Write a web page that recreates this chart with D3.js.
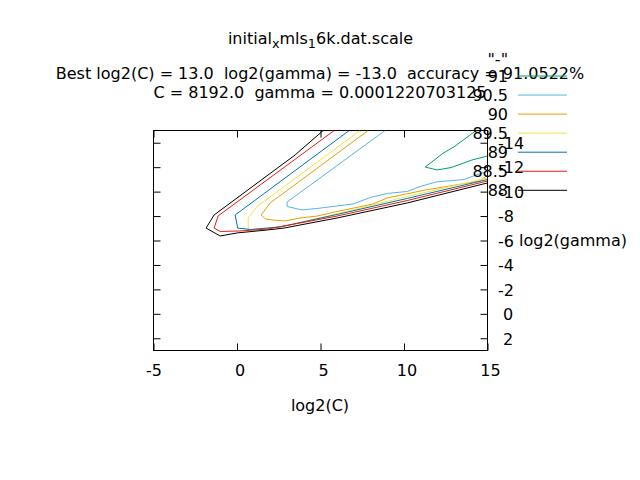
<!DOCTYPE html>
<html>
<head>
<meta charset="utf-8">
<script src="https://cdn.jsdelivr.net/npm/d3@7"></script>
<style>
  html, body { margin: 0; padding: 0; background: #fff; }
  svg text { font-family: "DejaVu Sans", sans-serif; font-size: 16px; fill: #000; white-space: pre; }
</style>
</head>
<body>
<svg id="chart" width="640" height="480"></svg>
<script>
// ---- data (log2(C), log2(gamma)) contour polylines ----
const levels = ["91", "90.5", "90", "89.5", "89", "88.5", "88"];
const c91   = [[14.32,-15],[13.06,-13.73],[12.28,-13.08],[11.27,-12.01],[11.98,-11.77],[12.82,-11.97],[14.08,-12.59],[15,-12.91]];
const c90_5 = [[8.87,-15],[3.0,-9.15],[3.0,-8.78],[3.9,-8.5],[4.8,-8.62],[6.96,-8.99],[7.98,-9.52],[9.0,-9.85],[10.19,-10.01],[10.97,-10.42],[11.93,-10.79],[13.6,-10.99],[14.32,-11.36],[15,-11.65]];
const c90   = [[7.85,-15],[2.88,-9.97],[1.98,-9.07],[1.45,-8.09],[1.69,-7.76],[2.11,-7.68],[2.88,-7.6],[3.78,-7.84],[4.8,-8.0],[5.99,-8.37],[8.15,-8.99],[8.99,-9.48],[11.27,-10.13],[14.56,-10.87],[15,-11.36]];
const c89_5 = [[7.37,-15],[1.19,-8.77],[0.67,-7.84],[0.67,-6.86],[1.51,-6.9],[3.19,-7.27],[6.17,-8.25],[10.19,-9.6],[15,-11.11]];
const c89   = [[6.72,-15],[-0.11,-8.09],[0.04,-7.02],[0.79,-6.9],[2.59,-7.11],[5.99,-8.13],[10.19,-9.44],[15,-10.99]];
const c88_5 = [[5.82,-15],[-1.13,-8.01],[-1.37,-7.02],[-1.01,-6.74],[0.19,-6.78],[1.81,-6.94],[2.82,-7.19],[5.99,-8.0],[10.19,-9.27],[15,-10.87]];
const c88   = [[5.16,-15],[3.48,-13.0],[-1.37,-8.09],[-1.85,-7.02],[-1.01,-6.37],[0.01,-6.62],[1.81,-6.86],[2.82,-7.02],[5.99,-7.84],[10.19,-9.07],[15,-10.71]];
const contours = [c91, c90_5, c90, c89_5, c89, c88_5, c88];

const xTicks = [-5, 0, 5, 10, 15];
const yTicks = [-14, -12, -10, -8, -6, -4, -2, 0, 2];
const titleLines = ["Best log2(C) = 13.0  log2(gamma) = -13.0  accuracy = 91.0522%",
                    "C = 8192.0  gamma = 0.0001220703125"];

// ---- styles ----
const colors = ["#009e73", "#56b4e9", "#e69f00", "#f0e442", "#0072b2", "#e51e10", "#000000"];

const svg = d3.select("#chart");
const L = 153.5, R = 487.5, T = 130.5, B = 350.5;
const x = d3.scaleLinear().domain([-5, 15]).range([L, R]);
const y = d3.scaleLinear().domain([-15, 3]).range([T, B]);

const fmt = v => (v >= 0 ? " " : "") + String(v);

svg.append("defs").append("clipPath").attr("id", "clip")
  .append("rect").attr("x", L).attr("y", T).attr("width", R - L).attr("height", B - T);

const axB = d3.axisBottom(x).tickValues(xTicks).tickSizeInner(-7).tickSizeOuter(0).tickPadding(14.5).tickFormat(fmt);
const axT = d3.axisTop(x).tickValues(xTicks).tickSizeInner(-7).tickSizeOuter(0).tickFormat("");
const axL = d3.axisLeft(y).tickValues(yTicks).tickSizeInner(-7).tickSizeOuter(0).tickFormat("");
const axR = d3.axisRight(y).tickValues(yTicks).tickSizeInner(-7).tickSizeOuter(0).tickPadding(10.5).tickFormat(fmt);

function styleAxis(g) {
  g.select(".domain").remove();
  g.selectAll("line").attr("stroke", "#000").attr("stroke-width", 1);
  g.selectAll("text").attr("font-family", "DejaVu Sans, sans-serif").attr("font-size", 16).attr("fill", "#000").style("white-space", "pre");
}
svg.append("g").attr("transform", `translate(0,${B})`).call(axB).call(styleAxis);
svg.append("g").attr("transform", `translate(0,${T})`).call(axT).call(styleAxis);
svg.append("g").attr("transform", `translate(${L},0)`).call(axL).call(styleAxis);
svg.append("g").attr("transform", `translate(${R},0)`).call(axR).call(styleAxis)
  .selectAll("text").attr("dy", "0.36em");

svg.append("rect").attr("x", L).attr("y", T).attr("width", R - L).attr("height", B - T)
  .attr("fill", "none").attr("stroke", "#000").attr("stroke-width", 1);

const line = d3.line().x(d => x(d[0])).y(d => y(d[1]));
const gc = svg.append("g").attr("clip-path", "url(#clip)");
contours.forEach((c, i) => {
  gc.append("path").attr("d", line(c)).attr("fill", "none")
    .attr("stroke", colors[i]).attr("stroke-width", 1).attr("stroke-linejoin", "miter");
});

svg.append("text").attr("x", 320).attr("y", 410.5).attr("text-anchor", "middle").text("log2(C)");
svg.append("text").attr("x", 519).attr("y", y(-6) + 5.8).attr("text-anchor", "start").text("log2(gamma)");

const t = svg.append("text").attr("x", 320.5).attr("y", 44.3).attr("text-anchor", "middle");
t.append("tspan").text("initial");
t.append("tspan").attr("dy", 4).attr("font-size", 12.8).text("x");
t.append("tspan").attr("dy", -4).text("mls");
t.append("tspan").attr("dy", 4).attr("font-size", 12.8).text("1");
t.append("tspan").attr("dy", -4).text("6k.dat.scale");
svg.append("text").attr("x", 320).attr("y", 78.5).attr("text-anchor", "middle").text(titleLines[0]);
svg.append("text").attr("x", 320).attr("y", 98).attr("text-anchor", "middle").text(titleLines[1]);

const legX = 508, legY0 = 76, legDy = 19.05;
svg.append("text").attr("x", legX).attr("y", legY0 - legDy + 7.8).attr("text-anchor", "end").text('"-"');
levels.forEach((lv, i) => {
  const yy = legY0 + i * legDy;
  svg.append("text").attr("x", legX).attr("y", yy + 5.8).attr("text-anchor", "end").text(lv);
  svg.append("line").attr("x1", 518).attr("x2", 567).attr("y1", yy).attr("y2", yy)
    .attr("stroke", colors[i]).attr("stroke-width", 1);
});
</script>
</body>
</html>
